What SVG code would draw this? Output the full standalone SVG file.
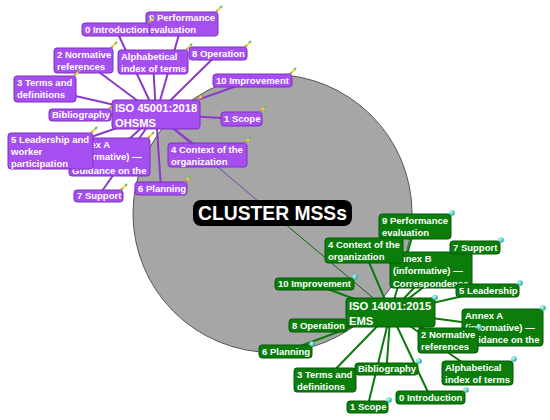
<svg xmlns="http://www.w3.org/2000/svg" width="550" height="420" viewBox="0 0 550 420">
<style>
text{font-family:"Liberation Sans",Arial,sans-serif;font-weight:bold;font-size:9.5px;fill:#fff}
.p rect.b{fill:#a64ff0;stroke:#7e2fc2;stroke-width:1}
.g rect.b{fill:#0b7d0b;stroke:#055a05;stroke-width:1}
.big text{font-size:11.2px}
.pl line{stroke:#8a3cc8;stroke-width:2}
.gl line{stroke:#0a7a0a;stroke-width:2}
</style>
<defs>
<g id="pi">
<line x1="-3" y1="3" x2="-1" y2="1" stroke="#f08c2a" stroke-width="2"/>
<line x1="-1" y1="1" x2="1" y2="-1" stroke="#f2d43a" stroke-width="2"/>
<line x1="1" y1="-1" x2="3" y2="-3" stroke="#6cc04a" stroke-width="2"/>
<circle cx="-3" cy="3" r="0.9" fill="#4a8ad8"/>
</g>
<radialGradient id="tg" cx="0.35" cy="0.35" r="0.7">
<stop offset="0" stop-color="#b8fff4"/>
<stop offset="1" stop-color="#1aa59a"/>
</radialGradient>
<g id="gi"><circle r="2.8" fill="url(#tg)"/></g>
<clipPath id="cpA"><rect x="69" y="138" width="81" height="38" rx="3"/></clipPath>
<clipPath id="cgB"><rect x="390" y="252" width="82" height="36" rx="3"/></clipPath>
<clipPath id="cgA"><rect x="462" y="309" width="81" height="37" rx="3"/></clipPath>
</defs>

<ellipse cx="272.5" cy="213.5" rx="139.5" ry="139" fill="#a6a6a6" stroke="#555" stroke-width="1"/>

<g id="connectors">
<line x1="156" y1="114.5" x2="272" y2="213" stroke="#7b3fb5" stroke-width="1"/>
<line x1="272" y1="213" x2="390.5" y2="312.5" stroke="#0a6a0a" stroke-width="1"/>
<g class="pl">
<line x1="156" y1="114.5" x2="182" y2="24"/>
<line x1="156" y1="114.5" x2="116" y2="29.5"/>
<line x1="156" y1="114.5" x2="83.5" y2="60.5"/>
<line x1="156" y1="114.5" x2="153" y2="62"/>
<line x1="156" y1="114.5" x2="218" y2="53.5"/>
<line x1="156" y1="114.5" x2="252.5" y2="80.5"/>
<line x1="156" y1="114.5" x2="45" y2="89"/>
<line x1="156" y1="114.5" x2="80" y2="115"/>
<line x1="156" y1="114.5" x2="241.5" y2="119"/>
<line x1="156" y1="114.5" x2="109.5" y2="157"/>
<line x1="156" y1="114.5" x2="50.5" y2="151"/>
<line x1="156" y1="114.5" x2="207.5" y2="155"/>
<line x1="156" y1="114.5" x2="161" y2="188.5"/>
<line x1="156" y1="114.5" x2="98.5" y2="196"/>
</g>
<g class="gl">
<line x1="390.5" y1="312.5" x2="415" y2="226.5"/>
<line x1="390.5" y1="312.5" x2="431" y2="270"/>
<line x1="390.5" y1="312.5" x2="364" y2="250.5"/>
<line x1="390.5" y1="312.5" x2="475" y2="247.5"/>
<line x1="390.5" y1="312.5" x2="487.5" y2="290.5"/>
<line x1="390.5" y1="312.5" x2="314.5" y2="284"/>
<line x1="390.5" y1="312.5" x2="502.5" y2="327.5"/>
<line x1="390.5" y1="312.5" x2="448" y2="340.5"/>
<line x1="390.5" y1="312.5" x2="318" y2="325.5"/>
<line x1="390.5" y1="312.5" x2="285.5" y2="351.5"/>
<line x1="390.5" y1="312.5" x2="325" y2="380"/>
<line x1="390.5" y1="312.5" x2="386.5" y2="369"/>
<line x1="390.5" y1="312.5" x2="477.5" y2="373"/>
<line x1="390.5" y1="312.5" x2="430.5" y2="397.5"/>
<line x1="390.5" y1="312.5" x2="367.5" y2="407"/>
</g>
</g>

<g id="cluster">
<rect x="193" y="200" width="159" height="26" rx="8" fill="#000"/>
<text x="272.5" y="220" text-anchor="middle" style="font-size:19.3px">CLUSTER MSSs</text>
</g>

<!-- purple nodes -->
<g id="p-perf" class="p"><rect class="b" x="146" y="12" width="72" height="24" rx="3"/><text x="149" y="21">9 Performance</text><text x="149" y="33.3">evaluation</text><use href="#pi" x="219" y="9"/></g>
<g id="p-intro" class="p"><rect class="b" x="82" y="23" width="68" height="13" rx="3"/><text x="85" y="32.5">0 Introduction</text><use href="#pi" x="151" y="20"/></g>
<g id="p-norm" class="p"><rect class="b" x="54" y="48" width="59" height="25" rx="3"/><text x="57" y="57.5">2 Normative</text><text x="57" y="69.8">references</text><use href="#pi" x="114" y="45"/></g>
<g id="p-alpha" class="p"><rect class="b" x="118" y="50" width="70" height="24" rx="3"/><text x="121" y="59.5">Alphabetical</text><text x="121" y="71.8">index of terms</text><use href="#pi" x="189" y="47"/></g>
<g id="p-op" class="p"><rect class="b" x="189" y="47" width="58" height="13" rx="3"/><text x="192" y="56.5">8 Operation</text><use href="#pi" x="248" y="44"/></g>
<g id="p-imp" class="p"><rect class="b" x="213" y="74" width="79" height="13" rx="3"/><text x="216" y="83.5">10 Improvement</text><use href="#pi" x="293" y="71"/></g>
<g id="p-terms" class="p"><rect class="b" x="14" y="76" width="62" height="26" rx="3"/><text x="17" y="85.5">3 Terms and</text><text x="17" y="97.8">definitions</text><use href="#pi" x="77" y="73"/></g>
<g id="p-bib" class="p"><rect class="b" x="49" y="109" width="62" height="12" rx="3"/><text x="52" y="118.3">Bibliography</text><use href="#pi" x="112" y="106"/></g>
<g id="p-iso" class="p big"><rect class="b" x="112" y="100" width="88" height="29" rx="3"/><text x="115" y="112">ISO 45001:2018</text><text x="115" y="126.5">OHSMS</text><use href="#pi" x="201" y="97"/></g>
<g id="p-scope" class="p"><rect class="b" x="221" y="112" width="41" height="14" rx="3"/><text x="224" y="122.3">1 Scope</text><use href="#pi" x="263" y="109"/></g>
<g id="p-annexa" class="p"><rect class="b" x="69" y="138" width="81" height="38" rx="3"/><g clip-path="url(#cpA)"><text x="72" y="147.5">Annex A</text><text x="72" y="159.8">(informative) —</text><text x="72" y="174">Guidance on the</text></g><use href="#pi" x="151" y="135"/></g>
<g id="p-lead" class="p"><rect class="b" x="8" y="133" width="85" height="36" rx="3"/><text x="11" y="142.5">5 Leadership and</text><text x="11" y="154.8">worker</text><text x="11" y="167">participation</text><use href="#pi" x="94" y="130"/></g>
<g id="p-ctx" class="p"><rect class="b" x="168" y="143" width="79" height="24" rx="3"/><text x="171" y="152.5">4 Context of the</text><text x="171" y="164.8">organization</text><use href="#pi" x="248" y="140"/></g>
<g id="p-plan" class="p"><rect class="b" x="135" y="182" width="52" height="13" rx="3"/><text x="138" y="191.5">6 Planning</text><use href="#pi" x="188" y="179"/></g>
<g id="p-sup" class="p"><rect class="b" x="74" y="190" width="49" height="12" rx="3"/><text x="77" y="199.3">7 Support</text><use href="#pi" x="124" y="187"/></g>

<!-- green nodes -->
<g id="g-perf" class="g"><rect class="b" x="379" y="214" width="72" height="25" rx="3"/><text x="382" y="223.5">9 Performance</text><text x="382" y="235.8">evaluation</text><use href="#gi" x="452" y="213"/></g>
<g id="g-annexb" class="g"><rect class="b" x="390" y="252" width="82" height="36" rx="3"/><g clip-path="url(#cgB)"><text x="393" y="261.5">Annex B</text><text x="393" y="273.8">(informative) —</text><text x="393" y="287">Correspondence</text></g></g>
<g id="g-ctx" class="g"><rect class="b" x="325" y="238" width="78" height="25" rx="3"/><text x="328" y="247.5">4 Context of the</text><text x="328" y="259.8">organization</text></g>
<g id="g-sup" class="g"><rect class="b" x="450" y="241" width="50" height="13" rx="3"/><text x="453" y="250.5">7 Support</text><use href="#gi" x="501" y="240"/></g>
<g id="g-lead" class="g"><rect class="b" x="456" y="284" width="63" height="13" rx="3"/><text x="459" y="293.5">5 Leadership</text><use href="#gi" x="520" y="283"/></g>
<g id="g-imp" class="g"><rect class="b" x="275" y="278" width="79" height="12" rx="3"/><text x="278" y="287.3">10 Improvement</text><use href="#gi" x="355" y="277"/></g>
<g id="g-iso" class="g big"><rect class="b" x="346" y="298" width="89" height="29" rx="3"/><text x="349" y="310">ISO 14001:2015</text><text x="349" y="324.5">EMS</text><use href="#gi" x="435" y="297.5"/></g>
<g id="g-annexa" class="g"><rect class="b" x="462" y="309" width="81" height="37" rx="3"/><g clip-path="url(#cgA)"><text x="465" y="318.5">Annex A</text><text x="465" y="330.8">(informative) —</text><text x="465" y="343">Guidance on the</text></g><use href="#gi" x="543" y="308"/></g>
<g id="g-norm" class="g"><rect class="b" x="418" y="328" width="60" height="25" rx="3"/><text x="421" y="337.5">2 Normative</text><text x="421" y="349.8">references</text><use href="#gi" x="479" y="327"/></g>
<g id="g-op" class="g"><rect class="b" x="289" y="319" width="58" height="13" rx="3"/><text x="292" y="328.5">8 Operation</text></g>
<g id="g-plan" class="g"><rect class="b" x="259" y="345" width="53" height="13" rx="3"/><text x="262" y="354.5">6 Planning</text><use href="#gi" x="312" y="344"/></g>
<g id="g-terms" class="g"><rect class="b" x="294" y="368" width="62" height="24" rx="3"/><text x="297" y="377.5">3 Terms and</text><text x="297" y="389.8">definitions</text></g>
<g id="g-bib" class="g"><rect class="b" x="355" y="363" width="63" height="12" rx="3"/><text x="358" y="372.3">Bibliography</text><use href="#gi" x="419" y="361"/></g>
<g id="g-alpha" class="g"><rect class="b" x="442" y="361" width="71" height="24" rx="3"/><text x="445" y="370.5">Alphabetical</text><text x="445" y="382.8">index of terms</text><use href="#gi" x="514" y="359"/></g>
<g id="g-intro" class="g"><rect class="b" x="396" y="391" width="69" height="13" rx="3"/><text x="399" y="400.5">0 Introduction</text><use href="#gi" x="466" y="390"/></g>
<g id="g-scope" class="g"><rect class="b" x="347" y="401" width="41" height="12" rx="3"/><text x="350" y="410.3">1 Scope</text><use href="#gi" x="389" y="400"/></g>
</svg>
